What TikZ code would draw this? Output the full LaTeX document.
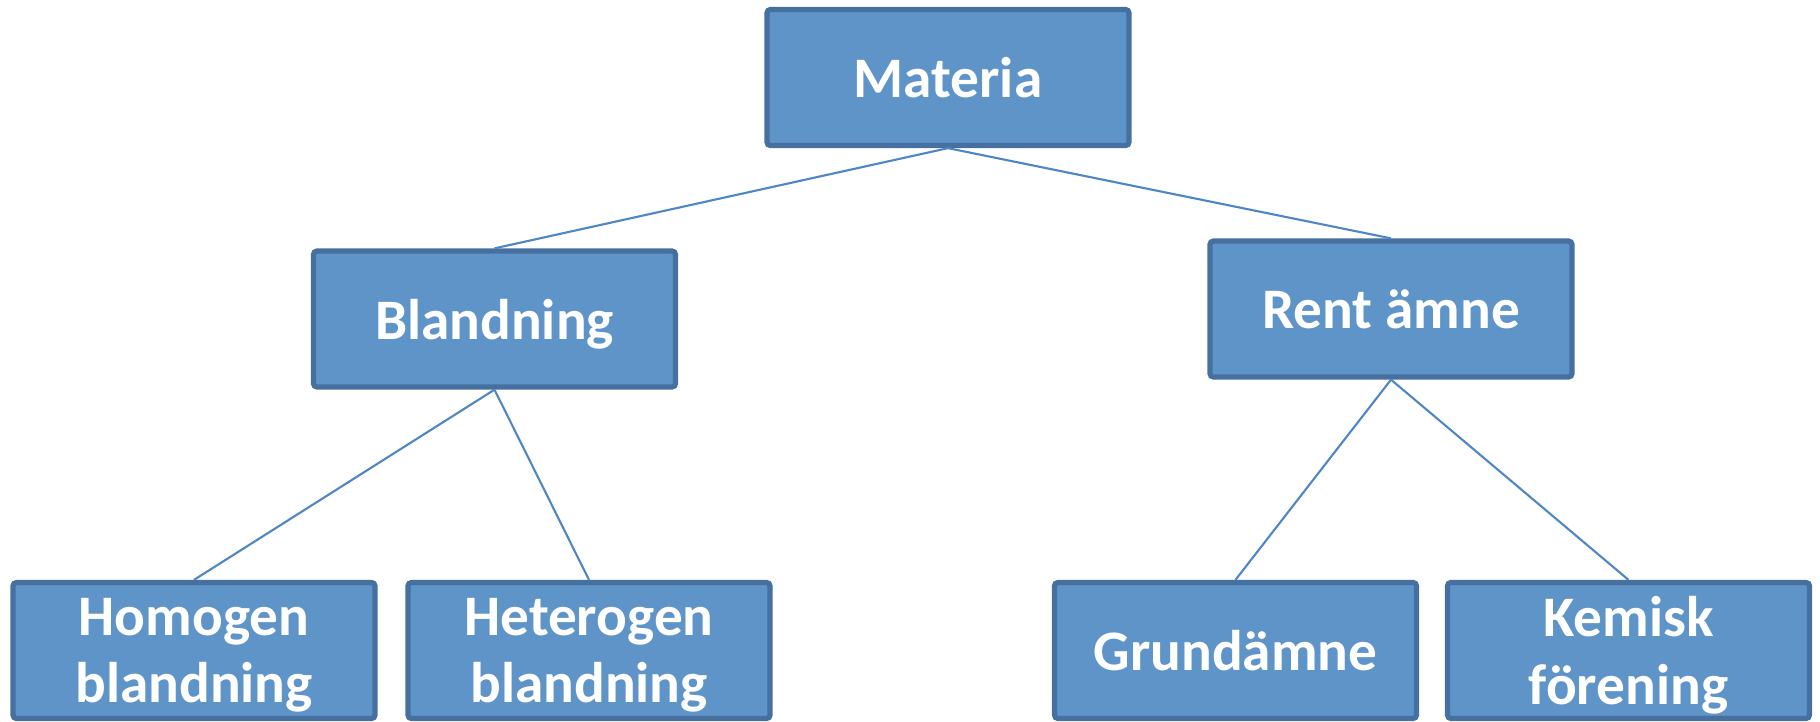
\documentclass[tikz,border=0pt]{standalone}
\usepackage{fontspec}
\setmainfont{Carlito}
\definecolor{boxfill}{HTML}{5F94C8}
\definecolor{boxline}{HTML}{46709F}
\definecolor{linkline}{HTML}{4F86C6}

\begin{document}
\begin{tikzpicture}[
    box/.style={draw=boxline,line width=1.5pt,fill=boxfill,rounded corners=1pt,
      minimum width=3.62cm,minimum height=1.36cm,inner sep=0pt,align=center,
      text depth=-0.2cm,text=white,font=\fontsize{16.3}{19.2}\selectfont\bfseries},
    link/.style={draw=linkline,line width=0.6pt}]
    \useasboundingbox (0,0) rectangle (18.2,-7.21);

    \node[box] (materia) at (9.48,-0.775) {Materia};
    \node[box] (bland) at (4.945,-3.19) {Blandning};
    \node[box] (rent) at (13.91,-3.09) {Rent ämne};
    \node[box] (homo) at (1.94,-6.505) {Homogen\\blandning};
    \node[box] (hetero) at (5.89,-6.505) {Heterogen\\blandning};
    \node[box] (grund) at (12.355,-6.505) {Grundämne};
    \node[box] (kemisk) at (16.285,-6.505) {Kemisk\\förening};

    \draw[link] (materia.south) -- (bland.north);
    \draw[link] (materia.south) -- (rent.north);
    \draw[link] (bland.south) -- (homo.north);
    \draw[link] (bland.south) -- (hetero.north);
    \draw[link] (rent.south) -- (grund.north);
    \draw[link] (rent.south) -- (kemisk.north);
  \end{tikzpicture}
\end{document}
